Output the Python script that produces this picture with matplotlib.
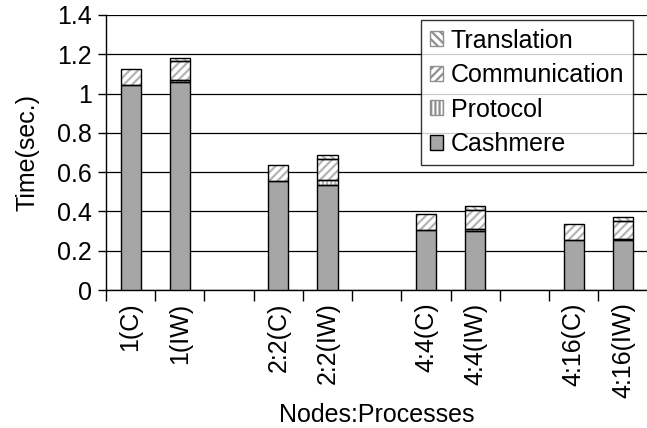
import matplotlib
matplotlib.use("Agg")
import matplotlib.pyplot as plt
from matplotlib.patches import Patch
import numpy as np

plt.rcParams['font.family'] = ['Liberation Sans', 'DejaVu Sans']
plt.rcParams['hatch.linewidth'] = 1.6

categories = ["1(C)", "1(IW)", "2:2(C)", "2:2(IW)", "4:4(C)", "4:4(IW)", "4:16(C)", "4:16(IW)"]
cashmere = [1.043, 1.057, 0.553, 0.536, 0.303, 0.300, 0.254, 0.256]
protocol = [0.0, 0.011, 0.0, 0.022, 0.0, 0.009, 0.0, 0.006]
communication = [0.081, 0.096, 0.083, 0.107, 0.082, 0.097, 0.082, 0.088]
translation = [0.0, 0.019, 0.0, 0.021, 0.0, 0.020, 0.0, 0.020]

series = [
    ("Cashmere", cashmere, "#a6a6a6", None),
    ("Protocol", protocol, "white", "||||"),
    ("Communication", communication, "white", "////"),
    ("Translation", translation, "white", "\\\\\\\\"),
]

FS = 18

fig = plt.figure(figsize=(6.47, 4.28), dpi=100)
ax = fig.add_axes([106/647, (428-290)/428, 1 - 106/647 + 0.001, 275/428])

pos = np.array([i + i // 2 for i in range(len(categories))], dtype=float)
width = 0.41
bottom = np.zeros(len(categories))
hatch_gray = "#b4b4b4"
for name, vals, fc, hatch in series:
    vals = np.array(vals)
    mask = vals > 0
    if hatch:
        ax.bar(pos[mask], vals[mask], width, bottom=bottom[mask], color=fc,
               edgecolor=hatch_gray, hatch=hatch, linewidth=0, zorder=2)
        ax.bar(pos[mask], vals[mask], width, bottom=bottom[mask], fill=False,
               edgecolor="black", linewidth=1.0, zorder=3)
    else:
        ax.bar(pos[mask], vals[mask], width, bottom=bottom[mask], color=fc,
               edgecolor="black", linewidth=1.0, zorder=3)
    bottom = bottom + vals

ax.set_xlim(-0.5, 10.5)
ax.set_ylim(0, 1.4)
ax.set_yticks(np.arange(0, 1.41, 0.2))
ax.set_yticklabels(["0", "0.2", "0.4", "0.6", "0.8", "1", "1.2", "1.4"])
ax.yaxis.grid(True, color="black", linewidth=0.9, zorder=0)
ax.set_axisbelow(True)

ax.set_xticks(np.arange(-0.5, 10.6, 1.0))
ax.set_xticklabels([])
ax.set_xticks(pos, minor=True)
ax.set_xticklabels(categories, minor=True, rotation=90, fontsize=FS)
ax.tick_params(axis='x', which='major', length=8, width=1, direction='out')
ax.tick_params(axis='x', which='minor', length=0, pad=9)
ax.tick_params(axis='y', length=6, width=1, direction='out', labelsize=FS, pad=4)

for s in ["top", "right"]:
    ax.spines[s].set_visible(False)
ax.spines["left"].set_linewidth(1.0)
ax.spines["bottom"].set_linewidth(1.0)

ax.set_ylabel("Time(sec.)", fontsize=FS, labelpad=13)
ax.set_xlabel("Nodes:Processes", fontsize=FS, labelpad=3)

handles = [
    Patch(facecolor="white", edgecolor="#909090", hatch="\\\\\\\\", label="Translation"),
    Patch(facecolor="white", edgecolor="#909090", hatch="////", label="Communication"),
    Patch(facecolor="white", edgecolor="#909090", hatch="||||", label="Protocol"),
    Patch(facecolor="#a6a6a6", edgecolor="black", label="Cashmere"),
]
leg = ax.legend(handles=handles, loc="upper right", fontsize=FS, frameon=True, fancybox=False,
                handlelength=0.55, handleheight=0.55, handletextpad=0.3, labelspacing=0.42,
                borderpad=0.35, borderaxespad=0.0)
leg.get_frame().set_edgecolor("black")
leg.get_frame().set_linewidth(1.0)
leg.set_bbox_to_anchor((633/647, (428-20)/428), transform=fig.transFigure)

fig.savefig("out.png", dpi=100)
